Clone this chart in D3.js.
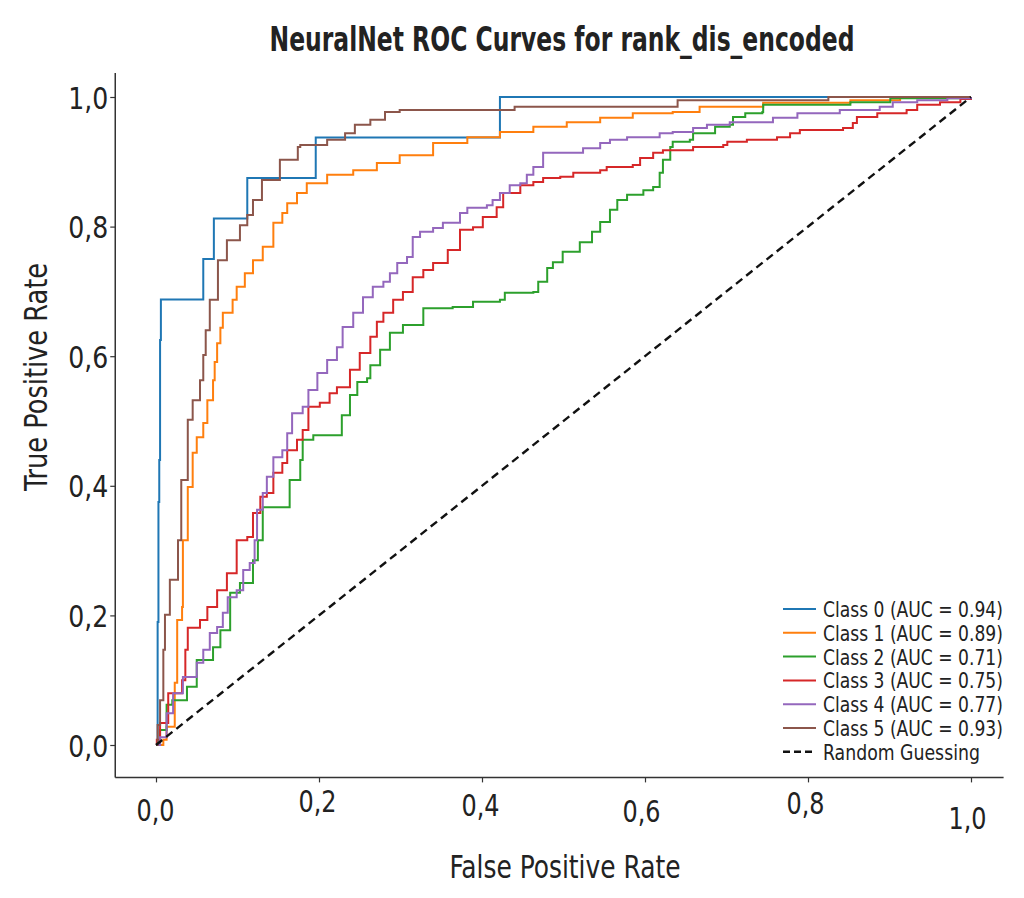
<!DOCTYPE html>
<html>
<head>
<meta charset="utf-8">
<script src="https://cdn.jsdelivr.net/npm/d3@7"></script>
<style>
  body { margin: 0; background: #fff; }
  text { font-family: "DejaVu Sans Condensed", "DejaVu Sans", sans-serif; font-stretch: condensed; fill: #222; }
</style>
</head>
<body>
<div id="chart"></div>
<script>
// ROC curves, one per class (fpr / tpr)
var classNames = ["Class 0", "Class 1", "Class 2", "Class 3", "Class 4", "Class 5"];
var aucValues = [0.94, 0.89, 0.71, 0.75, 0.77, 0.93];
var colors = ["#1f77b4", "#ff7f0e", "#2ca02c", "#d62728", "#9467bd", "#8c564b"];

var fpr0 = [0, .002, .003, .004, .005, .006, .058, .071, .112, .196, .422, 1];
var tpr0 = [0, .19, .375, .44, .625, .6875, .75, .8125, .875, .9375, 1, 1];

var fpr1 = [0, .009, .013, .023, .026, .032, .033, .039, .045, .050, .058, .063, .070, .072, .075, .079, .082, .094, .099, .109, .119, .131, .144, .155, .161, .173, .185, .210, .242, .271, .299, .340, .382, .422, .463, .504, .545, .585, .634, .667, .745, .852, .913, 1];
var tpr1 = [0, .008, .028, .096, .193, .213, .316, .398, .451, .475, .497, .532, .563, .591, .620, .644, .667, .687, .707, .728, .748, .769, .806, .821, .836, .852, .867, .880, .887, .898, .910, .929, .938, .946, .954, .961, .968, .975, .977, .985, .991, .995, 1, 1];

var fpr2 = [0, .005, .013, .020, .038, .050, .070, .079, .091, .103, .119, .125, .131, .155, .164, .177, .180, .193, .217, .228, .238, .247, .259, .263, .275, .287, .303, .321, .328, .364, .389, .422, .428, .463, .469, .480, .487, .499, .520, .535, .545, .557, .566, .578, .598, .610, .618, .622, .631, .634, .655, .659, .683, .686, .704, .708, .723, .744, .745, .852, .901, 1];
var tpr2 = [0, .023, .062, .069, .090, .131, .151, .177, .235, .250, .285, .316, .367, .367, .409, .440, .471, .478, .478, .509, .540, .560, .566, .586, .610, .636, .648, .648, .674, .676, .684, .687, .698, .699, .715, .736, .745, .761, .776, .792, .807, .826, .841, .849, .856, .861, .883, .903, .923, .931, .934, .944, .944, .954, .957, .969, .975, .977, .988, .992, .998, 1];

var fpr3 = [0, .001, .005, .015, .029, .032, .036, .039, .052, .054, .063, .075, .087, .099, .099, .112, .119, .128, .136, .144, .155, .161, .173, .180, .187, .201, .213, .222, .238, .250, .263, .271, .279, .291, .303, .315, .328, .340, .358, .373, .389, .401, .418, .426, .447, .463, .475, .496, .512, .545, .553, .585, .594, .610, .622, .659, .696, .701, .725, .762, .778, .790, .843, .855, .860, .885, .921, .934, .962, .987, 1];
var tpr3 = [0, .008, .034, .080, .080, .100, .147, .181, .181, .193, .213, .239, .265, .290, .316, .321, .358, .383, .389, .420, .435, .455, .471, .486, .522, .528, .543, .552, .579, .605, .630, .653, .667, .687, .699, .722, .733, .744, .764, .795, .799, .815, .830, .852, .864, .869, .875, .877, .883, .887, .892, .895, .906, .914, .918, .923, .926, .931, .934, .938, .944, .949, .952, .960, .969, .975, .980, .988, .992, .997, 1];

var fpr4 = [0, .005, .013, .021, .033, .050, .058, .066, .075, .082, .088, .099, .107, .115, .121, .124, .131, .136, .144, .155, .161, .167, .180, .187, .198, .210, .222, .229, .242, .254, .266, .279, .287, .296, .308, .315, .324, .340, .352, .373, .382, .406, .413, .422, .434, .447, .455, .463, .475, .524, .545, .557, .578, .618, .634, .659, .676, .704, .757, .787, .839, .888, .904, .934, .971, 1];
var tpr4 = [0, .012, .049, .080, .105, .127, .147, .173, .182, .204, .228, .239, .270, .281, .316, .363, .389, .414, .444, .455, .481, .512, .522, .548, .574, .594, .614, .645, .667, .691, .707, .715, .728, .744, .753, .784, .792, .798, .806, .821, .829, .833, .841, .852, .864, .867, .880, .892, .914, .921, .929, .934, .938, .944, .946, .952, .957, .961, .968, .975, .980, .985, .992, .995, .998, 1];

var fpr5 = [0, .002, .005, .009, .011, .017, .027, .031, .039, .045, .054, .058, .061, .066, .076, .087, .103, .112, .119, .130, .152, .174, .177, .210, .232, .244, .263, .281, .299, .440, .640, .825, 1];
var tpr5 = [0, .031, .069, .147, .201, .255, .316, .409, .502, .532, .563, .602, .640, .687, .748, .779, .802, .818, .841, .872, .903, .923, .926, .934, .944, .957, .965, .977, .980, .985, .995, 1, 1];

var fprAll = [fpr0, fpr1, fpr2, fpr3, fpr4, fpr5];
var tprAll = [tpr0, tpr1, tpr2, tpr3, tpr4, tpr5];

var tickValues = [0, 0.2, 0.4, 0.6, 0.8, 1.0];
var tickLabels = ["0,0", "0,2", "0,4", "0,6", "0,8", "1,0"];

// layout
var width = 1024, height = 898;
// x tick label baselines wobble a bit in the picture
var xLabelShiftY = [44, 35, 39, 45, 37, 52];
var xLabelShiftX = [-1, -2, -2, -4, -3, -4];

// squeeze a text to a given width (the picture uses a condensed face)
function fit(sel, w) {
    sel.attr("textLength", w).attr("lengthAdjust", "spacingAndGlyphs");
}

var svg = d3.select("#chart").append("svg")
    .attr("width", width)
    .attr("height", height);

var x = d3.scaleLinear().domain([0, 1]).range([156, 971]);
var y = d3.scaleLinear().domain([0, 1]).range([745, 97]);

var axisColor = "#333";

// title
svg.append("text")
    .attr("x", 562)
    .attr("y", 51)
    .attr("text-anchor", "middle")
    .style("font-size", "33px")
    .style("font-weight", "bold")
    .text("NeuralNet ROC Curves for rank_dis_encoded")
    .call(fit, 585);

// curves
var line = d3.line()
    .x(function(d) { return x(d[0]); })
    .y(function(d) { return y(d[1]); })
    .curve(d3.curveStepAfter);

var plot = svg.append("g");

fprAll.forEach(function(f, i) {
    var pts = f.map(function(v, j) { return [v, tprAll[i][j]]; });
    plot.append("path")
        .datum(pts)
        .attr("fill", "none")
        .attr("stroke", colors[i])
        .attr("stroke-width", 2)
        .attr("stroke-linejoin", "miter")
        .attr("d", line);
});

// random guessing diagonal
plot.append("path")
    .datum([[0, 0], [1, 1]])
    .attr("fill", "none")
    .attr("stroke", "#111")
    .attr("stroke-width", 2.4)
    .attr("stroke-dasharray", "8,5")
    .attr("d", d3.line().x(function(d) { return x(d[0]); }).y(function(d) { return y(d[1]); }));

// axes
var xAxis = svg.append("g")
    .attr("transform", "translate(0," + y(-0.05) + ")")
    .call(d3.axisBottom(x).tickValues(tickValues).tickSize(5).tickSizeOuter(0)
        .tickFormat(function(d, i) { return tickLabels[i]; }));

xAxis.select(".domain").remove();
xAxis.append("line")
    .attr("x1", x(-0.05)).attr("x2", x(1.04))
    .attr("stroke", axisColor).attr("stroke-width", 1.5);
xAxis.selectAll(".tick line").attr("stroke", axisColor).attr("stroke-width", 1.2);
xAxis.selectAll(".tick text")
    .attr("dy", 0)
    .attr("y", function(d, i) { return xLabelShiftY[i]; })
    .attr("x", function(d, i) { return xLabelShiftX[i]; })
    .style("font-size", "31px")
    .style("fill", "#222")
    .call(fit, 38);

var yAxis = svg.append("g")
    .attr("transform", "translate(" + x(-0.05) + ",0)")
    .call(d3.axisLeft(y).tickValues(tickValues).tickSize(5).tickPadding(2).tickSizeOuter(0)
        .tickFormat(function(d, i) { return tickLabels[i]; }));

yAxis.select(".domain").remove();
yAxis.append("line")
    .attr("y1", y(-0.05)).attr("y2", y(1.037))
    .attr("stroke", axisColor).attr("stroke-width", 1.5);
yAxis.selectAll(".tick line").attr("stroke", axisColor).attr("stroke-width", 1.2);
yAxis.selectAll(".tick text")
    .attr("dy", "0.36em")
    .style("font-size", "31px")
    .style("fill", "#222")
    .call(fit, 40);

// axis titles
svg.append("text")
    .attr("x", 565)
    .attr("y", 878)
    .attr("text-anchor", "middle")
    .style("font-size", "32px")
    .text("False Positive Rate")
    .call(fit, 231);

svg.append("text")
    .attr("transform", "translate(47,377) rotate(-90)")
    .attr("text-anchor", "middle")
    .style("font-size", "32px")
    .text("True Positive Rate")
    .call(fit, 228);

// legend
var legend = svg.append("g").attr("transform", "translate(783,609)");
var rowH = 23.8;
var legendItems = classNames.map(function(c, i) {
    return { label: c + " (AUC = " + aucValues[i].toFixed(2) + ")", color: colors[i], dash: null, w: 180 };
});
legendItems.push({ label: "Random Guessing", color: "#111", dash: "7,4", w: 157 });

legendItems.forEach(function(d, i) {
    var g = legend.append("g").attr("transform", "translate(0," + (i * rowH) + ")");
    g.append("line")
        .attr("x1", 0).attr("x2", 33)
        .attr("stroke", d.color)
        .attr("stroke-width", d.dash ? 2.4 : 2)
        .attr("stroke-dasharray", d.dash);
    // squeeze by a transform so the text box itself is narrowed
    var tg = g.append("g");
    var t = tg.append("text")
        .attr("dy", "0.36em")
        .style("font-size", "22px")
        .text(d.label);
    var natural = t.node().getComputedTextLength();
    tg.attr("transform", "translate(40,0) scale(" + (d.w / natural) + ",1)");
});
</script>
</body>
</html>
